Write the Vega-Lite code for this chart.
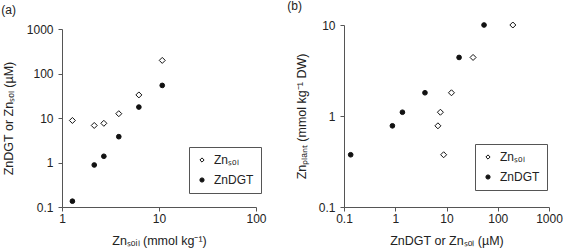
{
  "$schema": "https://vega.github.io/schema/vega-lite/v6.json",
  "padding": {"left": 1, "top": 0, "right": 2, "bottom": 2},
  "background": "white",
  "columns": 2,
  "align": "none",
  "spacing": 20,
  "config": {
    "font": "Liberation Sans",
    "view": {"stroke": null},
    "axis": {
      "grid": false,
      "domainColor": "#555",
      "tickColor": "#555",
      "tickSize": 4,
      "labelFontSize": 12,
      "labelColor": "#222",
      "labelFont": "Liberation Sans",
      "titleFont": "Liberation Sans",
      "titleFontSize": 12.5,
      "titleFontWeight": "normal",
      "titleColor": "#222",
      "labelFlush": false,
      "labelOverlap": false,
      "format": "~g"
    },
    "axisX": {"labelPadding": 2, "titlePadding": 10},
    "axisY": {"labelPadding": 5, "titlePadding": 11},
    "legend": {
      "strokeColor": "#555",
      "padding": 7,
      "labelFontSize": 12,
      "labelColor": "#222",
      "labelFont": "Liberation Sans",
      "symbolSize": 18,
      "symbolStrokeWidth": 1,
      "labelOffset": 6,
      "rowPadding": 8
    },
    "title": {"anchor": "start", "frame": "bounds", "fontSize": 12, "fontWeight": "normal", "color": "#222", "font": "Liberation Sans"}
  },
  "data": {
    "values": [
      {"series": "Znₛₒₗ", "soil": 1.28, "plant": 0.375, "conc": 8.8},
      {"series": "Znₛₒₗ", "soil": 2.15, "plant": 0.78, "conc": 6.8},
      {"series": "Znₛₒₗ", "soil": 2.7, "plant": 1.1, "conc": 7.6},
      {"series": "Znₛₒₗ", "soil": 3.85, "plant": 1.8, "conc": 12.5},
      {"series": "Znₛₒₗ", "soil": 6.2, "plant": 4.4, "conc": 33},
      {"series": "Znₛₒₗ", "soil": 10.8, "plant": 10, "conc": 197},
      {"series": "ZnDGT", "soil": 1.28, "plant": 0.375, "conc": 0.135},
      {"series": "ZnDGT", "soil": 2.15, "plant": 0.78, "conc": 0.88},
      {"series": "ZnDGT", "soil": 2.7, "plant": 1.1, "conc": 1.38},
      {"series": "ZnDGT", "soil": 3.85, "plant": 1.8, "conc": 3.8},
      {"series": "ZnDGT", "soil": 6.2, "plant": 4.4, "conc": 17.6},
      {"series": "ZnDGT", "soil": 10.8, "plant": 10, "conc": 54}
    ]
  },
  "concat": [
    {
      "title": {"text": "(a)", "offset": 6, "dx": -1},
      "width": 194,
      "height": 182,
      "mark": {"type": "point", "filled": false, "strokeWidth": 1, "opacity": 1, "stroke": "#111"},
      "encoding": {
        "x": {
          "field": "soil", "type": "quantitative",
          "scale": {"type": "log", "domain": [1, 100], "nice": false},
          "axis": {"values": [1, 10, 100], "title": "Znₛₒᵢₗ (mmol kg⁻¹)"}
        },
        "y": {
          "field": "conc", "type": "quantitative",
          "scale": {"type": "log", "domain": [0.1, 1000], "nice": false, "range": [182, 4]},
          "axis": {"values": [0.1, 1, 10, 100, 1000], "title": "ZnDGT or Znₛₒₗ (µM)"}
        },
        "shape": {
          "field": "series", "type": "nominal",
          "scale": {"domain": ["Znₛₒₗ", "ZnDGT"], "range": ["diamond", "circle"]},
          "legend": {"title": null, "orient": "none", "legendX": 127, "legendY": 122}
        },
        "fill": {
          "field": "series", "type": "nominal",
          "scale": {"domain": ["Znₛₒₗ", "ZnDGT"], "range": ["white", "#111"]},
          "legend": {"title": null, "orient": "none", "legendX": 127, "legendY": 122}
        },
        "size": {
          "field": "series", "type": "nominal",
          "scale": {"domain": ["Znₛₒₗ", "ZnDGT"], "range": [36, 22]},
          "legend": null
        }
      }
    },
    {
      "title": {"text": "(b)", "offset": 6, "dx": -8},
      "width": 205,
      "height": 182,
      "mark": {"type": "point", "filled": false, "strokeWidth": 1, "opacity": 1, "stroke": "#111"},
      "encoding": {
        "x": {
          "field": "conc", "type": "quantitative",
          "scale": {"type": "log", "domain": [0.1, 1000], "nice": false},
          "axis": {"values": [0.1, 1, 10, 100, 1000], "title": "ZnDGT or Znₛₒₗ (µM)"}
        },
        "y": {
          "field": "plant", "type": "quantitative",
          "scale": {"type": "log", "domain": [0.1, 10], "nice": false},
          "axis": {"values": [0.1, 1, 10], "title": "Znₚₗₐₙₜ (mmol kg⁻¹ DW)", "titlePadding": 10}
        },
        "shape": {
          "field": "series", "type": "nominal",
          "scale": {"domain": ["Znₛₒₗ", "ZnDGT"], "range": ["diamond", "circle"]},
          "legend": {"title": null, "orient": "none", "legendX": 131, "legendY": 119}
        },
        "fill": {
          "field": "series", "type": "nominal",
          "scale": {"domain": ["Znₛₒₗ", "ZnDGT"], "range": ["white", "#111"]},
          "legend": {"title": null, "orient": "none", "legendX": 131, "legendY": 119}
        },
        "size": {
          "field": "series", "type": "nominal",
          "scale": {"domain": ["Znₛₒₗ", "ZnDGT"], "range": [36, 22]},
          "legend": null
        }
      }
    }
  ],
  "resolve": {"scale": {"x": "independent", "y": "independent"}, "legend": {"shape": "independent", "fill": "independent"}}
}
